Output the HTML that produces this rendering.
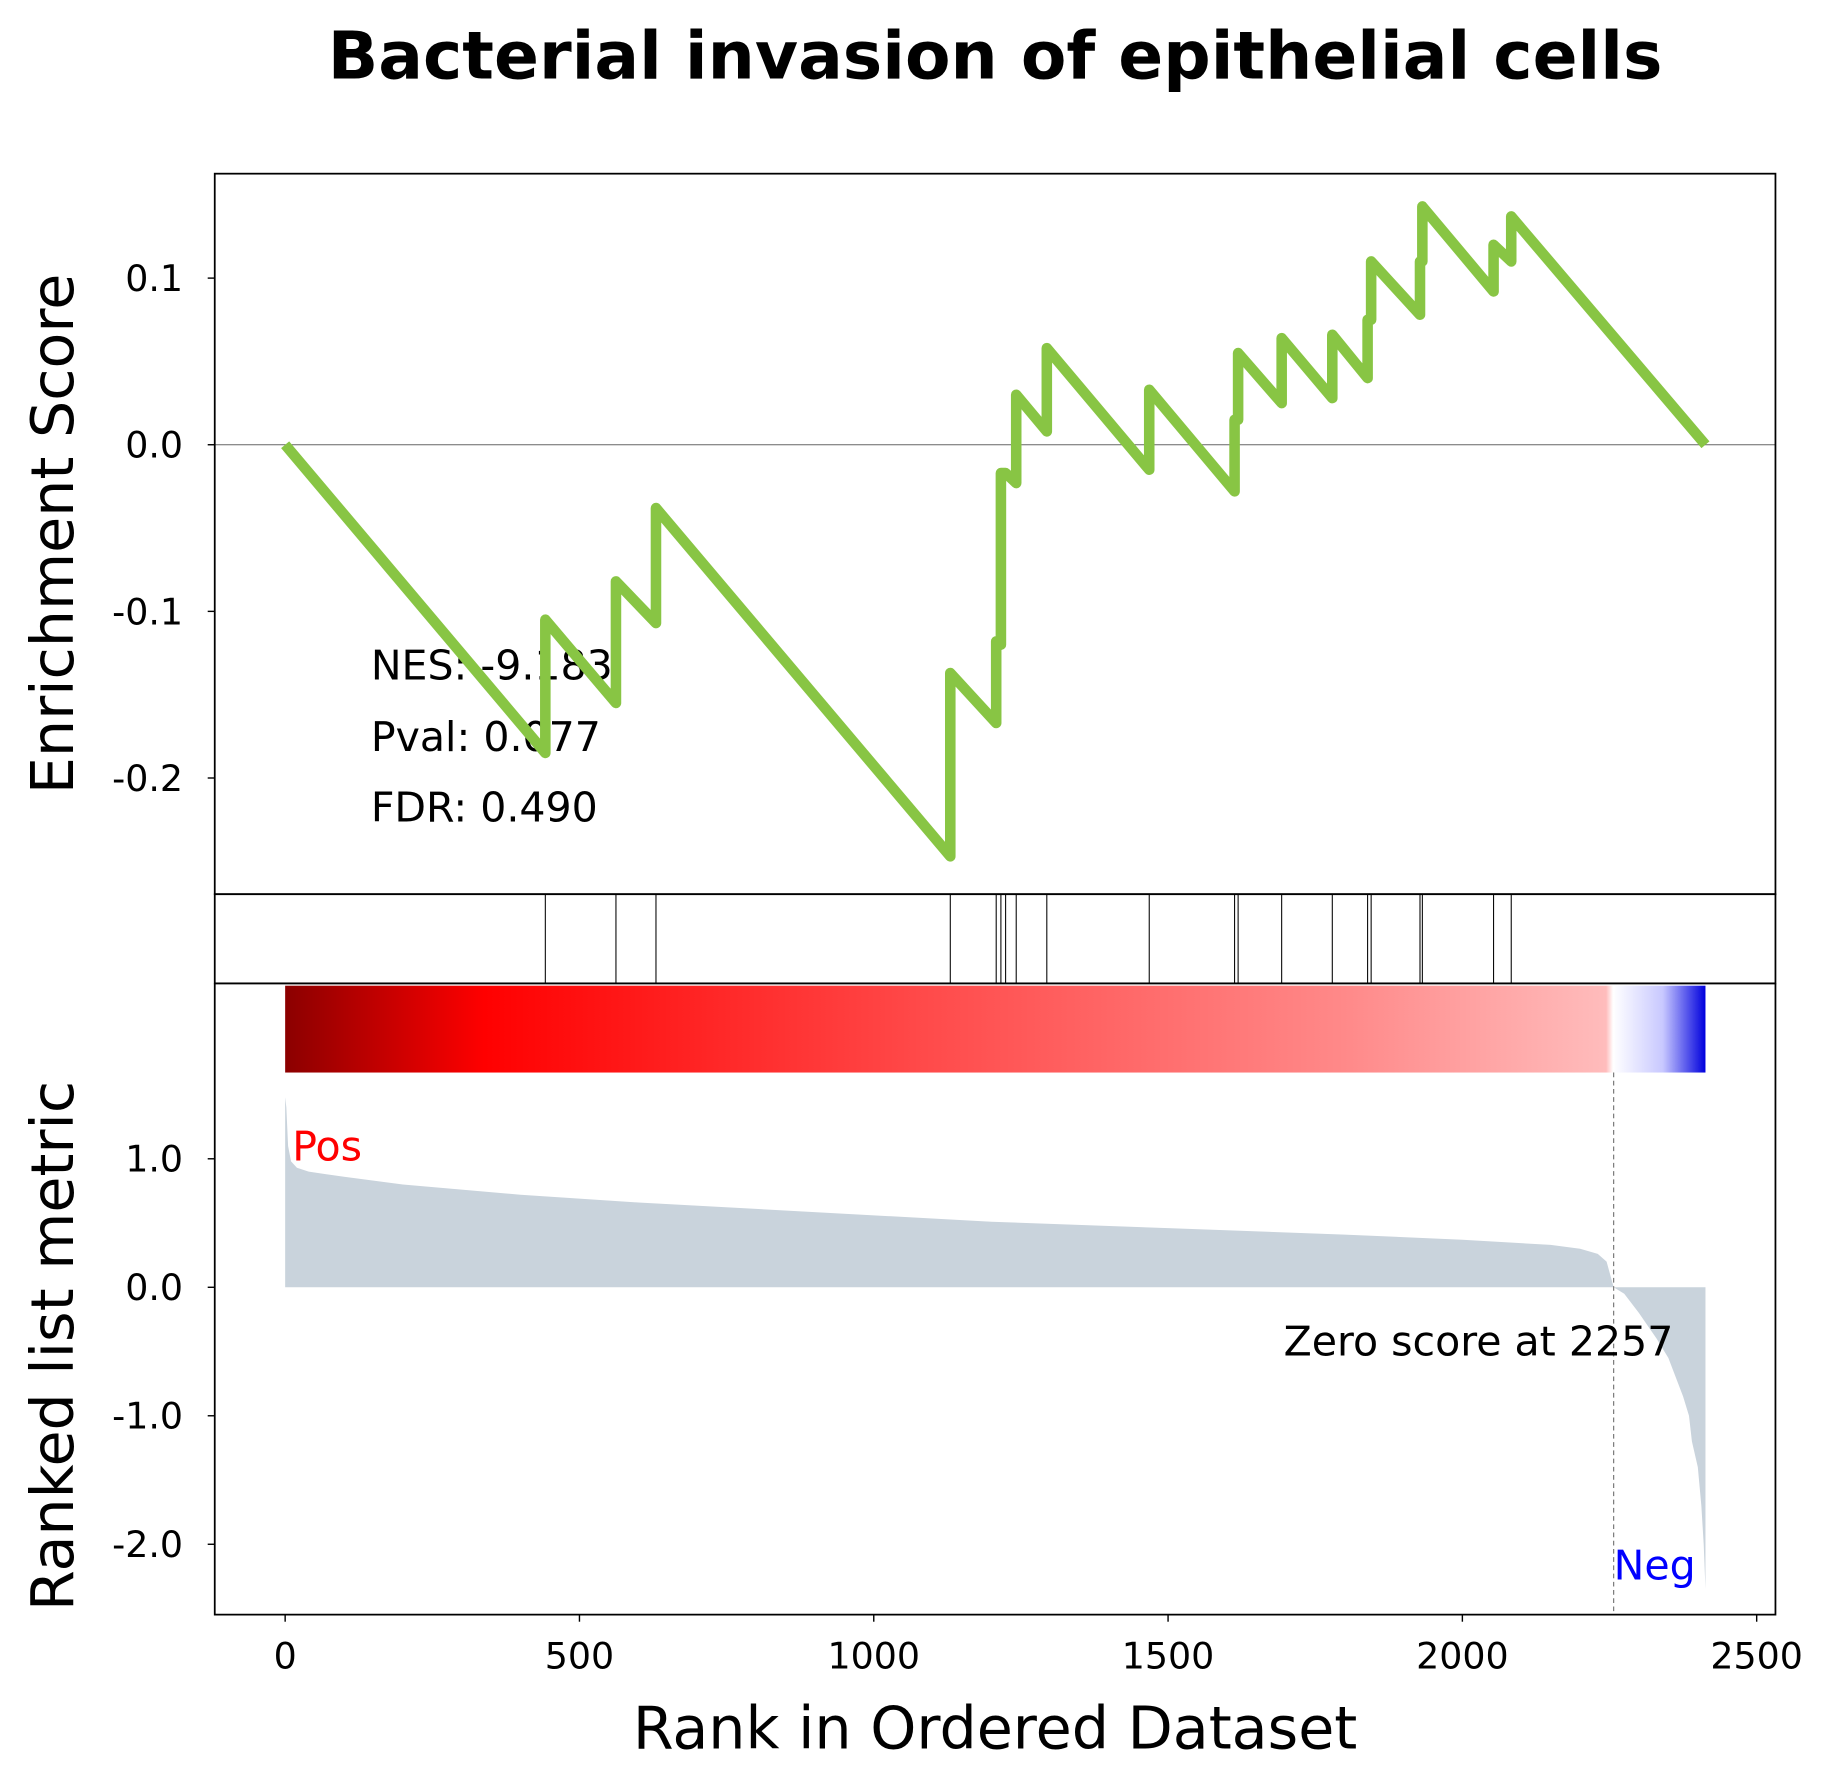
<!DOCTYPE html>
<html><head><meta charset="utf-8"><style>html,body{margin:0;padding:0;background:#fff}svg{display:block}text{font-family:"DejaVu Sans","Liberation Sans",sans-serif}</style></head>
<body>
<svg id="chart" width="1838" height="1786" viewBox="0 0 1566.3 1522" preserveAspectRatio="none" xmlns="http://www.w3.org/2000/svg">
<defs>
<linearGradient id="cb" x1="0" x2="1" y1="0" y2="0">
<stop offset="0" stop-color="#8b0000"/><stop offset="0.14" stop-color="#ff0000"/>
<stop offset="0.45" stop-color="#ff4a4a"/><stop offset="0.75" stop-color="#ff8a8a"/>
<stop offset="0.93" stop-color="#ffbcbc"/><stop offset="0.935" stop-color="#ffffff"/>
<stop offset="0.97" stop-color="#c8c8ff"/><stop offset="1" stop-color="#0000dd"/>
</linearGradient>
</defs>
<text x="848" y="67" font-size="56.5" font-weight="bold" text-anchor="middle">Bacterial invasion of epithelial cells</text>
<text transform="translate(62,455) rotate(-90)" font-size="50" text-anchor="middle">Enrichment Score</text>
<text transform="translate(62,1147) rotate(-90)" font-size="50" text-anchor="middle">Ranked list metric</text>
<text x="848" y="1490" font-size="50" text-anchor="middle">Rank in Ordered Dataset</text>
<text x="316" y="579" font-size="35">NES: -9.183</text>
<text x="316" y="640" font-size="35">Pval: 0.077</text>
<text x="316" y="700" font-size="35">FDR: 0.490</text>
</svg>
<script>
const hitRanks=[442,562,630,1130,1208,1216,1224,1242,1294,1468,1613,1619,1693,1779,1839,1845,1928,1932,2053,2083];
const esBefore=[-0.185,-0.155,-0.107,-0.247,-0.167,-0.120,-0.017,-0.023,0.008,-0.015,-0.028,0.015,0.025,0.028,0.040,0.075,0.078,0.110,0.092,0.110];
const esAfter=[-0.105,-0.082,-0.038,-0.137,-0.118,-0.017,-0.017,0.030,0.058,0.033,0.015,0.055,0.064,0.066,0.075,0.110,0.110,0.143,0.120,0.137];
const nGenes=2413, zeroRank=2257;
const metricRanks=[0,2,5,10,20,40,70,100,200,400,600,800,1000,1200,1500,1800,2000,2150,2200,2230,2245,2257,2275,2300,2330,2350,2375,2385,2390,2400,2406,2410,2413];
const metricVals=[1.48,1.4,1.1,0.98,0.93,0.9,0.88,0.86,0.8,0.72,0.66,0.61,0.56,0.51,0.46,0.41,0.37,0.33,0.3,0.26,0.2,0.0,-0.05,-0.2,-0.4,-0.55,-0.85,-1.0,-1.2,-1.4,-1.7,-2.0,-2.35];
const xTicks=[0,500,1000,1500,2000,2500];
const esTicks=[0.1,0.0,-0.1,-0.2];
const esTickLabels=["0.1","0.0","-0.1","-0.2"];
const mTicks=[1.0,0.0,-1.0,-2.0];
const mTickLabels=["1.0","0.0","-1.0","-2.0"];

const NS='http://www.w3.org/2000/svg';
const svg=document.getElementById('chart');
const L=183,R=1513,T1=148,B1=762,B2=838,B3=1376;
const x=r=>243+r*(1497-243)/2500;
const yE=v=>379-v*1420;
const yM=v=>1097-v*109.5;
function mk(tag,attrs,parent){const e=document.createElementNS(NS,tag);for(const k in attrs)e.setAttribute(k,attrs[k]);(parent||svg).appendChild(e);return e;}

let e=mk('line',{x1:L,x2:R,y1:yE(0),y2:yE(0),stroke:'#666','stroke-width':0.8});


let pts=[[0,0]];
for(let i=0;i<hitRanks.length;i++){pts.push([hitRanks[i],esBefore[i]]);pts.push([hitRanks[i],esAfter[i]]);}
pts.push([nGenes,0]);
e=mk('polyline',{points:pts.map(p=>x(p[0])+','+yE(p[1])).join(' '),fill:'none',stroke:'#88c544','stroke-width':9,'stroke-linejoin':'round'});


hitRanks.forEach(r=>{const h=mk('line',{x1:x(r),x2:x(r),y1:B1,y2:B2,stroke:'#000','stroke-width':0.9});

});
e=mk('rect',{x:x(0),y:840,width:x(nGenes)-x(0),height:74,fill:'url(#cb)'});


let ap=[[0,0]];metricRanks.forEach((r,i)=>ap.push([r,metricVals[i]]));ap.push([nGenes,0]);
e=mk('polygon',{points:ap.map(p=>x(p[0])+','+yM(p[1])).join(' '),fill:'#c9d3dc'});


e=mk('line',{x1:x(zeroRank),x2:x(zeroRank),y1:914,y2:B3,stroke:'#777','stroke-width':1,'stroke-dasharray':'4,3'});


[[L,T1,R-L,B1-T1,'es-axes-frame'],[L,B1,R-L,B2-B1,'hits-axes-frame']].forEach(a=>{const f=mk('rect',{x:a[0],y:a[1],width:a[2],height:a[3],fill:'none',stroke:'#000','stroke-width':1.5});

});
e=mk('path',{d:`M${L},${B2}L${R},${B2}M${L},914L${L},${B3}L${R},${B3}L${R},914M${L},${B2}L${L},914M${R},${B2}L${R},914`,fill:'none',stroke:'#000','stroke-width':1.5});


esTicks.forEach((v,i)=>{mk('line',{x1:L-6,x2:L,y1:yE(v),y2:yE(v),stroke:'#000','stroke-width':1.2});
const t=mk('text',{x:L-27,y:yE(v)+11,'font-size':31,'text-anchor':'end'});t.textContent=esTickLabels[i];

});
mTicks.forEach((v,i)=>{mk('line',{x1:L-6,x2:L,y1:yM(v),y2:yM(v),stroke:'#000','stroke-width':1.2});
const t=mk('text',{x:L-27,y:yM(v)+11,'font-size':31,'text-anchor':'end'});t.textContent=mTickLabels[i];

});
xTicks.forEach(v=>{mk('line',{x1:x(v),x2:x(v),y1:B3,y2:B3+6,stroke:'#000','stroke-width':1.2});
const t=mk('text',{x:x(v),y:B3+46,'font-size':31,'text-anchor':'middle'});t.textContent=String(v);

});
let t=mk('text',{x:249,y:989,'font-size':35,fill:'#ff0000'});t.textContent='Pos';


t=mk('text',{x:x(zeroRank),y:1346,'font-size':35,fill:'#0000ff'});t.textContent='Neg';


t=mk('text',{x:1426,y:1155,'font-size':35,'text-anchor':'end'});t.textContent='Zero score at '+zeroRank;


</script>
</body></html>
